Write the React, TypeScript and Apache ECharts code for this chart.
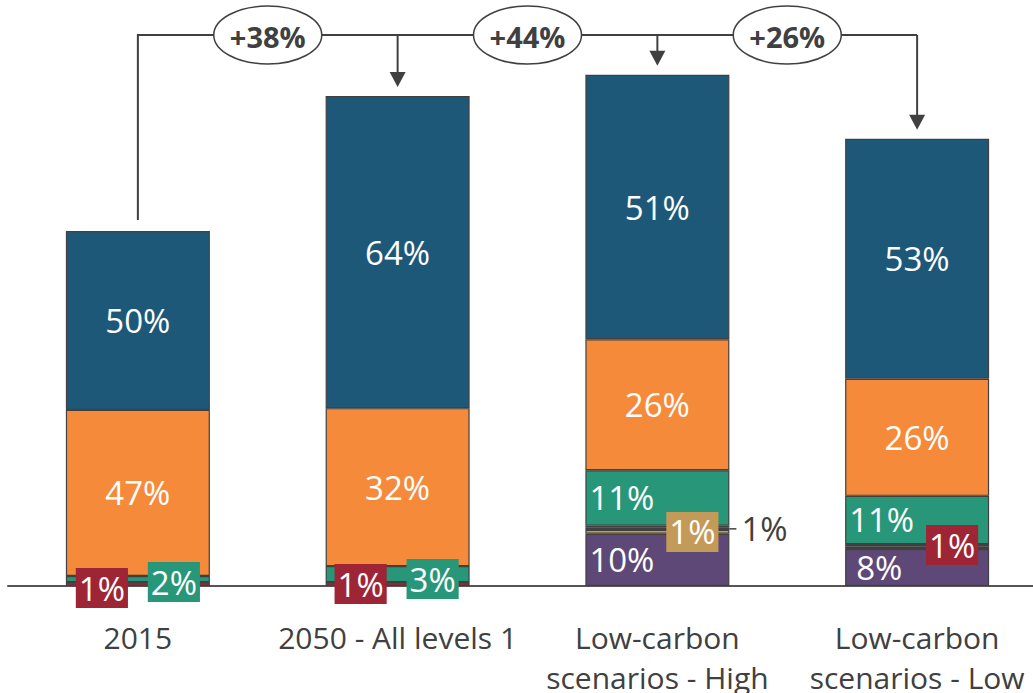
import React, { useEffect, useRef } from "react";
import * as echarts from "echarts";

const categories = [
  "2015",
  "2050 - All levels 1",
  "Low-carbon\nscenarios - High",
  "Low-carbon\nscenarios - Low",
];

// Values in index units (2015 total = 100)
const purpleValues = [0, 0, 14.7, 10.4];
const tanValues = [0, 0, 1.1, 0];
const greyValues = [0, 0, 0.6, 0.8];
const redValues = [1.1, 1.1, 0.6, 0.6];
const greenValues = [1.7, 4.5, 15.6, 13.6];
const orangeValues = [46.8, 44.5, 36.9, 33.0];
const blueValues = [50.4, 87.9, 74.5, 67.6];

// Share labels shown on each segment ("" = no label)
const purpleLabels = ["", "", "10%", "8%"];
const tanLabels = ["", "", "1%", ""];
const greyLabels = ["", "", "1%", ""];
const redLabels = ["1%", "1%", "", "1%"];
const greenLabels = ["2%", "3%", "11%", "11%"];
const orangeLabels = ["47%", "32%", "26%", "26%"];
const blueLabels = ["50%", "64%", "51%", "53%"];

const growthLabels = ["+38%", "+44%", "+26%"];

const FONT = "'Open Sans', 'Noto Sans', sans-serif";
const TEXT_GREY = "#404040";
const BORDER = "#404040";
const BAR_WIDTH = 144;

const COLORS = {
  purple: "#5E4877",
  tan: "#C49A58",
  grey: "#404040",
  red: "#9E2536",
  green: "#289779",
  orange: "#F68A3B",
  blue: "#1E5879",
};

type LabelKind =
  | "inside"
  | "insideLeft"
  | "insideLeftWide"
  | { box: string; dx: number; dy: number }
  | { outside: true; dx: number; dy: number }
  | null;

function labelStyle(kind: LabelKind) {
  const base = { show: true, color: "#fff", fontSize: 33, fontFamily: FONT };
  if (kind === null) return { show: false };
  if (kind === "inside") return { ...base, position: "inside" };
  if (kind === "insideLeft") return { ...base, position: "insideLeft", distance: 4 };
  if (kind === "insideLeftWide") return { ...base, position: "insideLeft", distance: 11 };
  if ("box" in kind)
    return {
      ...base,
      position: [kind.dx, kind.dy],
      align: "center",
      verticalAlign: "middle",
      backgroundColor: kind.box,
      padding: [2, 3, 2, 3],
      lineHeight: 36,
    };
  return {
    ...base,
    color: TEXT_GREY,
    position: [kind.dx, kind.dy],
    align: "left",
    verticalAlign: "middle",
  };
}

export default function App() {
  const ref = useRef<HTMLDivElement>(null);

  useEffect(() => {
    if (!ref.current) return;
    const chart = echarts.init(ref.current, undefined, { renderer: "svg" });

    const makeSeries = (
      name: string,
      color: string,
      values: number[],
      labels: string[],
      kinds: LabelKind[]
    ) => ({
      name,
      type: "bar",
      stack: "total",
      barWidth: BAR_WIDTH,
      itemStyle: { color, borderColor: BORDER, borderWidth: 1.2 },
      data: values.map((v, i) => ({
        value: v === 0 ? null : v,
        label: labels[i] ? { ...labelStyle(kinds[i]), formatter: labels[i] } : { show: false },
      })),
    });

    const series = [
      makeSeries("Purple", COLORS.purple, purpleValues, purpleLabels, [null, null, "insideLeft", "insideLeftWide"]),
      makeSeries("Tan", COLORS.tan, tanValues, tanLabels, [null, null, { box: COLORS.tan, dx: 107, dy: 2 }, null]),
      makeSeries("Grey", COLORS.grey, greyValues, greyLabels, [null, null, { outside: true, dx: 156, dy: 1 }, null]),
      makeSeries("Red", COLORS.red, redValues, redLabels, [
        { box: COLORS.red, dx: 36, dy: 6 },
        { box: COLORS.red, dx: 35, dy: 2 },
        null,
        { box: COLORS.red, dx: 107, dy: 1 },
      ]),
      makeSeries("Green", COLORS.green, greenValues, greenLabels, [
        { box: COLORS.green, dx: 108, dy: 6 },
        { box: COLORS.green, dx: 107, dy: 13 },
        "insideLeft",
        "insideLeft",
      ]),
      makeSeries("Orange", COLORS.orange, orangeValues, orangeLabels, ["inside", "inside", "inside", "inside"]),
      makeSeries("Blue", COLORS.blue, blueValues, blueLabels, ["inside", "inside", "inside", "inside"]),
    ];

    chart.setOption({
      animation: false,
      grid: {
        left: 8,
        right: -14,
        top: 18,
        bottom: 107,
        containLabel: false,
        outerBoundsMode: "none",
      },
      xAxis: {
        type: "category",
        data: categories,
        axisLine: { show: true, lineStyle: { color: "#555", width: 2 } },
        axisTick: { show: false },
        axisLabel: {
          color: TEXT_GREY,
          fontSize: 30,
          fontFamily: FONT,
          lineHeight: 40,
          margin: 31,
          interval: 0,
        },
      },
      yAxis: {
        type: "value",
        min: 0,
        max: 160,
        show: false,
        splitLine: { show: false },
      },
      series,
    });

    // Annotation connectors computed from the chart's own scales
    const allSeries = [purpleValues, tanValues, greyValues, redValues, greenValues, orangeValues, blueValues];
    const totals = categories.map((_, i) => allSeries.reduce((s, arr) => s + arr[i], 0));
    const px = (i: number, v: number) => chart.convertToPixel({ gridIndex: 0 }, [i, v]) as number[];
    const tops = totals.map((t, i) => px(i, t));
    const lineY = 35;
    const stroke = { stroke: "#404040", lineWidth: 2 };

    const elements: any[] = [];
    elements.push({
      type: "polyline",
      z: 10,
      shape: {
        points: [
          [tops[0][0], tops[0][1] - 11],
          [tops[0][0], lineY],
          [tops[3][0], lineY],
        ],
      },
      style: { ...stroke, fill: null },
    });
    for (let i = 1; i < tops.length; i++) {
      const [x, y] = tops[i];
      elements.push({
        type: "line",
        z: 10,
        shape: { x1: x, y1: lineY, x2: x, y2: y - 23 },
        style: stroke,
      });
      elements.push({
        type: "polygon",
        z: 10,
        shape: { points: [[x - 8, y - 24], [x + 8, y - 24], [x, y - 9]] },
        style: { fill: "#404040" },
      });
    }
    growthLabels.forEach((g, i) => {
      const cx = (tops[i][0] + tops[i + 1][0]) / 2;
      elements.push({
        type: "ellipse",
        z: 11,
        shape: { cx, cy: lineY, rx: 54, ry: 29 },
        style: { fill: "#fff", stroke: "#404040", lineWidth: 1.5 },
      });
      elements.push({
        type: "text",
        z: 12,
        x: cx,
        y: lineY + 1,
        style: {
          text: g,
          fill: "#404040",
          font: `bold 29px ${FONT}`,
          align: "center",
          verticalAlign: "middle",
        },
      });
    });

    // Leader line for the outside label on the grey segment of the High bar
    const hi = 2;
    const greyMid = purpleValues[hi] + tanValues[hi] + greyValues[hi] / 2;
    const [gx, gy] = px(hi, greyMid);
    elements.push({
      type: "line",
      z: 10,
      shape: { x1: gx + BAR_WIDTH / 2, y1: gy, x2: gx + BAR_WIDTH / 2 + 7, y2: gy },
      style: { stroke: "#404040", lineWidth: 1.5 },
    });

    chart.setOption({ graphic: { elements } });

    return () => chart.dispose();
  }, []);

  return (
    <div
      ref={ref}
      style={{ position: "absolute", left: 0, top: 0, width: 1033, height: 693, background: "#fff" }}
    />
  );
}
